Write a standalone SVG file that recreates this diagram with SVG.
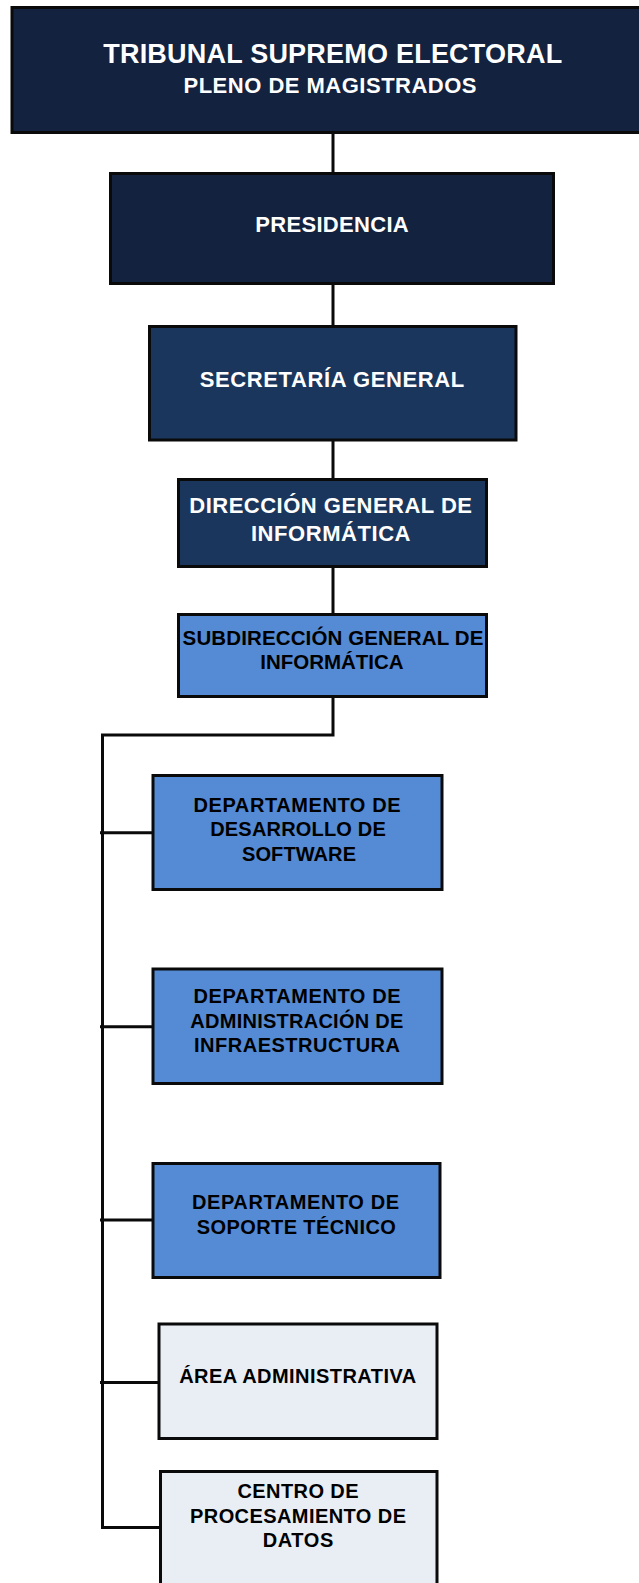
<svg xmlns="http://www.w3.org/2000/svg" width="639" height="1583" viewBox="0 0 639 1583">
<style>
.box{stroke:#0a0a0a;stroke-width:3}
.navy{fill:#12223f}
.blue2{fill:#1b365d}
.mid{fill:#558ad4}
.light{fill:#e9eef5}
.w{fill:#ffffff;font-family:"Liberation Sans",Arial,sans-serif;font-weight:bold;text-anchor:middle}
.k{fill:#000000;font-family:"Liberation Sans",Arial,sans-serif;font-weight:bold;text-anchor:middle}
.con{fill:none;stroke:#0a0a0a;stroke-width:3}
</style>
<rect width="639" height="1583" fill="#ffffff"/>
<g id="connectors">
<path class="con" d="M333 133V173M333 284V326M333 440V479M333 567V614"/>
<polyline class="con" points="333,697 333,735 102.5,735 102.5,1527.5 160,1527.5"/>
<path class="con" d="M100 832.7H153M100 1026.7H153M100 1220H153M100 1382.5H159"/>
</g>
<g id="tribunal">
<rect class="box navy" x="12" y="7.5" width="640" height="125"/>
<text class="w" x="332.7" y="63" font-size="27" textLength="459" lengthAdjust="spacing">TRIBUNAL SUPREMO ELECTORAL</text>
<text class="w" x="330" y="92.5" font-size="22" textLength="293" lengthAdjust="spacing">PLENO DE MAGISTRADOS</text>
</g>
<g id="presidencia">
<rect class="box navy" x="110.5" y="173.5" width="443" height="110"/>
<text class="w" x="332" y="231.5" font-size="22" textLength="153.4" lengthAdjust="spacing">PRESIDENCIA</text>
</g>
<g id="secretaria">
<rect class="box blue2" x="149.5" y="326.5" width="366.5" height="113.5"/>
<text class="w" x="332" y="387" font-size="22" textLength="264.5" lengthAdjust="spacing">SECRETARÍA GENERAL</text>
</g>
<g id="direccion">
<rect class="box blue2" x="178.5" y="479.5" width="308" height="87"/>
<text class="w" x="330.7" y="513" font-size="22" textLength="282.7" lengthAdjust="spacing">DIRECCIÓN GENERAL DE</text>
<text class="w" x="330.7" y="540.5" font-size="22" textLength="159.5" lengthAdjust="spacing">INFORMÁTICA</text>
</g>
<g id="subdireccion">
<rect class="box mid" x="178.5" y="614.5" width="308" height="82"/>
<text class="k" x="333" y="645" font-size="20.5" textLength="300.8" lengthAdjust="spacing">SUBDIRECCIÓN GENERAL DE</text>
<text class="k" x="332" y="669" font-size="20.5" textLength="143.3" lengthAdjust="spacing">INFORMÁTICA</text>
</g>
<g id="desarrollo">
<rect class="box mid" x="153" y="775.5" width="289" height="114"/>
<text class="k" x="297" y="811.7" font-size="20" textLength="207" lengthAdjust="spacing">DEPARTAMENTO DE</text>
<text class="k" x="298" y="836" font-size="20" textLength="175.6" lengthAdjust="spacing">DESARROLLO DE</text>
<text class="k" x="299" y="861" font-size="20" textLength="114" lengthAdjust="spacing">SOFTWARE</text>
</g>
<g id="infraestructura">
<rect class="box mid" x="153" y="969" width="289" height="114.5"/>
<text class="k" x="297" y="1002.7" font-size="20" textLength="207" lengthAdjust="spacing">DEPARTAMENTO DE</text>
<text class="k" x="296.8" y="1027.7" font-size="20" textLength="213" lengthAdjust="spacing">ADMINISTRACIÓN DE</text>
<text class="k" x="297" y="1051.7" font-size="20" textLength="206" lengthAdjust="spacing">INFRAESTRUCTURA</text>
</g>
<g id="soporte">
<rect class="box mid" x="153" y="1163.5" width="287" height="114"/>
<text class="k" x="295.5" y="1209.3" font-size="20" textLength="207" lengthAdjust="spacing">DEPARTAMENTO DE</text>
<text class="k" x="296.3" y="1234" font-size="20" textLength="199" lengthAdjust="spacing">SOPORTE TÉCNICO</text>
</g>
<g id="area-administrativa">
<rect class="box light" x="159" y="1324" width="278" height="114.5"/>
<text class="k" x="297.7" y="1382.7" font-size="20" textLength="237" lengthAdjust="spacing">ÁREA ADMINISTRATIVA</text>
</g>
<g id="centro-datos">
<rect class="box light" x="160.5" y="1471.5" width="276.5" height="130"/>
<text class="k" x="298" y="1497.7" font-size="20" textLength="121" lengthAdjust="spacing">CENTRO DE</text>
<text class="k" x="298" y="1522.7" font-size="20" textLength="216" lengthAdjust="spacing">PROCESAMIENTO DE</text>
<text class="k" x="298" y="1547.3" font-size="20" textLength="70.7" lengthAdjust="spacing">DATOS</text>
</g>
</svg>
